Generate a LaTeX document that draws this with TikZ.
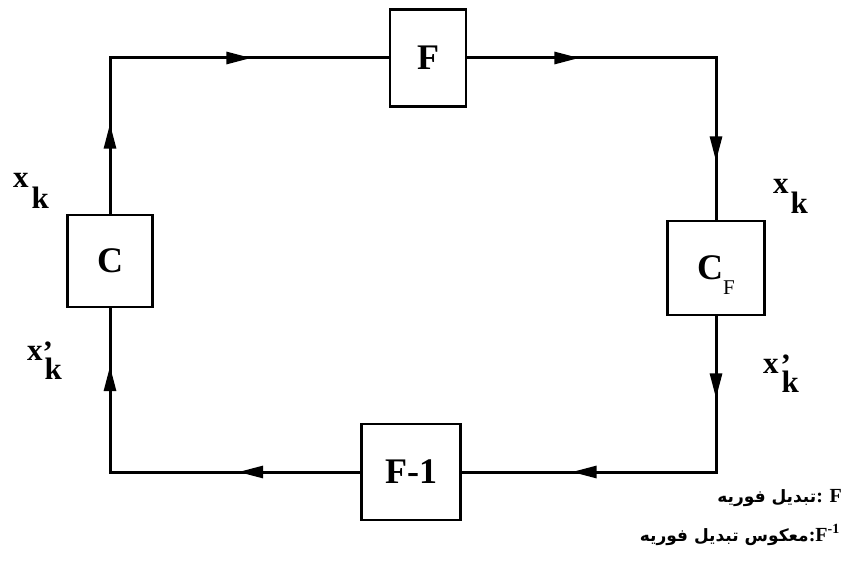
\documentclass[tikz,border=0pt]{standalone}
\usepackage{fontspec}
\setmainfont{Liberation Serif}
\newfontfamily\arabicfont[Script=Arabic]{DejaVu Sans Bold}
\TeXXeTstate=1
\usetikzlibrary{arrows.meta,decorations.markings}

\begin{document}
\begin{tikzpicture}[x=1pt,y=-1pt,
  blk/.style={draw,line width=2.6pt,inner sep=0pt,font=\fontsize{36}{36}\selectfont\bfseries},
  wire/.style={line width=3pt},
  lbl/.style={inner sep=0pt,anchor=base west,font=\fontsize{31}{31}\selectfont\bfseries},
  tips/.style n args={2}{postaction={decorate},decoration={markings,
      mark=at position #1 with {\arrow{Triangle[length=25pt,width=12pt]}},
      mark=at position #2 with {\arrow{Triangle[length=25pt,width=12pt]}}}},
  legend/.style={anchor=base east,inner sep=0pt,font=\fontsize{20}{20}\selectfont\bfseries},
]
\useasboundingbox (0,0) rectangle (842,567);

% blocks
\node[blk,minimum width=85pt,minimum height=92pt] (C) at (110,261) {C};
\node[blk,minimum width=76pt,minimum height=97pt] (F) at (428,58) {F};
\node[blk,minimum width=97pt,minimum height=94pt] (CF) at (716,268)
  {C\smash{\raisebox{-15pt}{\fontsize{21}{21}\selectfont\mdseries F}}};
\node[blk,minimum width=99pt,minimum height=96pt] (Fi) at (411,472) {F-1};

% corners
\coordinate (tl) at (110,58);
\coordinate (tr) at (716,58);
\coordinate (br) at (716,472);
\coordinate (bl) at (110,472);

% connectors
\draw[wire,tips={90pt}{297pt}] (C.north) -- (tl) -- (F.west);
\draw[wire,tips={112pt}{352pt}] (F.east) -- (tr) -- (CF.north);
\draw[wire,tips={82pt}{300pt}] (CF.south) -- (br) -- (Fi.east);
\draw[wire,tips={122pt}{356pt}] (Fi.west) -- (bl) -- (C.south);

% signal labels
\node[lbl] (xk1) at (13,187) {x\kern3pt\raisebox{-21pt}{k}};
\node[lbl] (xp1) at (27,360) {x\rlap{\raisebox{-2pt}{'}}\kern2pt\raisebox{-19pt}{k}};
\node[lbl] (xk2) at (773,193) {x\kern2pt\raisebox{-20pt}{k}};
\node[lbl] (xp2) at (763,373) {x\rlap{\kern2pt\raisebox{-2pt}{'}}\kern3pt\raisebox{-19pt}{k}};

% legend
\node[legend] (L1) at (842,502)
  {{\arabicfont\fontsize{17}{17}\selectfont\beginR تبدیل فوریه\endR}: F};
\node[legend] (L2) at (840,541)
  {{\arabicfont\fontsize{17}{17}\selectfont\beginR معکوس تبدیل فوریه\endR}:F\textsuperscript{-1}};
\end{tikzpicture}
\end{document}
